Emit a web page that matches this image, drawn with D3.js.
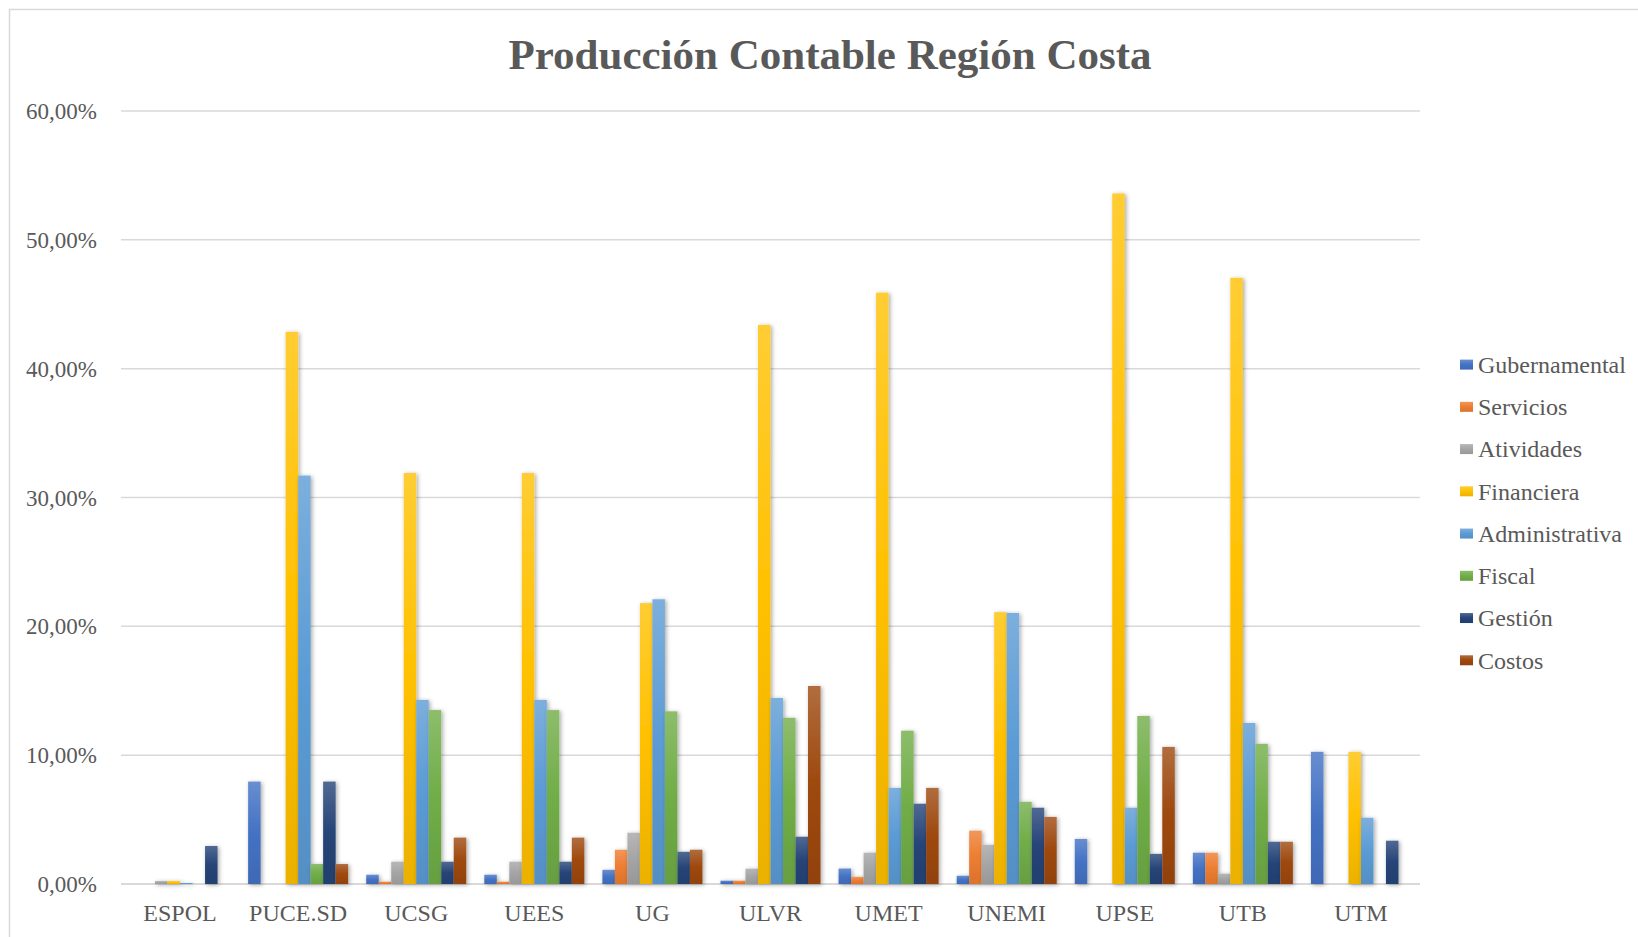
<!DOCTYPE html>
<html>
<head>
<meta charset="utf-8">
<script src="https://cdn.jsdelivr.net/npm/d3@7"></script>
<style>
  body { margin: 0; background: #fff; }
  svg text { font-family: "Liberation Serif", "Times New Roman", serif; fill: #595959; }
</style>
</head>
<body>
<svg id="chart"></svg>
<script>
// values, in percent
var categories = ["ESPOL", "PUCE.SD", "UCSG", "UEES", "UG", "ULVR", "UMET", "UNEMI", "UPSE", "UTB", "UTM"];
var seriesNames = ["Gubernamental", "Servicios", "Atividades", "Financiera", "Administrativa", "Fiscal", "Gestión", "Costos"];
var gubernamental  = [0,    7.95,  0.72,  0.72,  1.1,   0.26,  1.2,   0.64,  3.5,   2.43,  10.26];
var servicios      = [0,    0,     0.18,  0.18,  2.66,  0.26,  0.56,  4.14,  0,     2.43,  0];
var atividades     = [0.23, 0,     1.73,  1.73,  3.98,  1.19,  2.43,  3.04,  0,     0.8,   0];
var financiera     = [0.23, 42.86, 31.9,  31.9,  21.8,  43.4,  45.9,  21.1,  53.6,  47.05, 10.26];
var administrativa = [0.08, 31.7,  14.29, 14.29, 22.1,  14.44, 7.46,  21.04, 5.92,  12.5,  5.14];
var fiscal         = [0,    1.55,  13.5,  13.5,  13.4,  12.9,  11.9,  6.38,  13.04, 10.88, 0];
var gestion        = [2.95, 7.95,  1.73,  1.73,  2.5,   3.67,  6.23,  5.92,  2.34,  3.28,  3.36];
var costos         = [0,    1.55,  3.6,   3.6,   2.66,  15.37, 7.46,  5.21,  10.64, 3.28,  0];
var yTicks = [0, 10, 20, 30, 40, 50, 60];

var allSeries = [gubernamental, servicios, atividades, financiera, administrativa, fiscal, gestion, costos];
var colors = ["#4472C4", "#ED7D31", "#A5A5A5", "#FFC000", "#5B9BD5", "#70AD47", "#264478", "#9E480E"];

var width = 1638, height = 937;
var svg = d3.select("#chart").attr("width", width).attr("height", height);

// chart area border (only top and left are visible)
svg.append("rect")
    .attr("x", 9.5).attr("y", 9.5)
    .attr("width", width).attr("height", height)
    .attr("fill", "none").attr("stroke", "#D9D9D9").attr("stroke-width", 1.5);

var defs = svg.append("defs");
var shadow = defs.append("filter").attr("id", "shadow")
    .attr("x", "-50%").attr("y", "-10%").attr("width", "200%").attr("height", "120%");
shadow.append("feDropShadow")
    .attr("dx", 1.5).attr("dy", 1).attr("stdDeviation", 2)
    .attr("flood-color", "#000").attr("flood-opacity", 0.35);

colors.forEach(function (c, i) {
    var g = defs.append("linearGradient").attr("id", "grad" + i)
        .attr("x1", 0).attr("y1", 0).attr("x2", 0).attr("y2", 1);
    g.append("stop").attr("offset", "0%").attr("stop-color", d3.interpolateRgb(c, "#fff")(0.2));
    g.append("stop").attr("offset", "50%").attr("stop-color", c);
    g.append("stop").attr("offset", "100%").attr("stop-color", d3.interpolateRgb(c, "#000")(0.08));
});

var plotLeft = 121, plotRight = 1420, plotTop = 111, plotBottom = 884;

var x0 = d3.scaleBand().domain(categories).range([plotLeft, plotRight])
    .paddingInner(0.153).paddingOuter(0.0765);
var x1 = d3.scaleBand().domain(d3.range(seriesNames.length)).range([0, x0.bandwidth()]);
var y = d3.scaleLinear().domain([0, 60]).range([plotBottom, plotTop]);

var locale = d3.formatLocale({ decimal: ",", thousands: ".", grouping: [3], currency: ["", ""] });
var fmt = locale.format(".2f");

// gridlines
svg.append("g").selectAll("line")
    .data(yTicks).enter()
    .append("line")
    .attr("x1", plotLeft).attr("x2", plotRight)
    .attr("y1", d => y(d)).attr("y2", d => y(d))
    .attr("stroke", "#D9D9D9")
    .attr("stroke-width", d => d == 0 ? 2 : 1.5);

// y labels
svg.append("g").selectAll("text")
    .data(yTicks).enter()
    .append("text")
    .attr("x", 97).attr("y", d => y(d))
    .attr("dy", "0.35em")
    .attr("text-anchor", "end")
    .style("font-size", "23px")
    .text(d => fmt(d) + "%");

// bars, one group per series
var groups = svg.append("g").selectAll("g")
    .data(allSeries).enter()
    .append("g")
    .attr("fill", (d, i) => "url(#grad" + i + ")")
    .attr("filter", "url(#shadow)");

groups.each(function (vals, si) {
    d3.select(this).selectAll("rect")
        .data(vals.map((v, ci) => ({ cat: categories[ci], v: v })).filter(d => d.v > 0))
        .enter()
        .append("rect")
        .attr("x", d => x0(d.cat) + x1(si))
        .attr("width", x1.bandwidth())
        .attr("y", d => y(d.v))
        .attr("height", d => y(0) - y(d.v));
});

// category labels
svg.append("g").selectAll("text")
    .data(categories).enter()
    .append("text")
    .attr("x", d => x0(d) + x0.bandwidth() / 2)
    .attr("y", 921)
    .attr("text-anchor", "middle")
    .style("font-size", "24px")
    .text(d => d);

// title
svg.append("text")
    .attr("x", 830).attr("y", 69)
    .attr("text-anchor", "middle")
    .style("font-size", "43px")
    .style("font-weight", "bold")
    .text("Producción Contable Región Costa");

// legend
var legend = svg.append("g").selectAll("g")
    .data(seriesNames).enter()
    .append("g")
    .attr("transform", (d, i) => "translate(1460," + (364.6 + i * 42.24) + ")");

legend.append("rect")
    .attr("x", 0).attr("y", -5)
    .attr("width", 13).attr("height", 10)
    .attr("fill", (d, i) => "url(#grad" + i + ")");

legend.append("text")
    .attr("x", 18).attr("y", 0)
    .attr("dy", "0.35em")
    .style("font-size", "24px")
    .text(d => d);
</script>
</body>
</html>
